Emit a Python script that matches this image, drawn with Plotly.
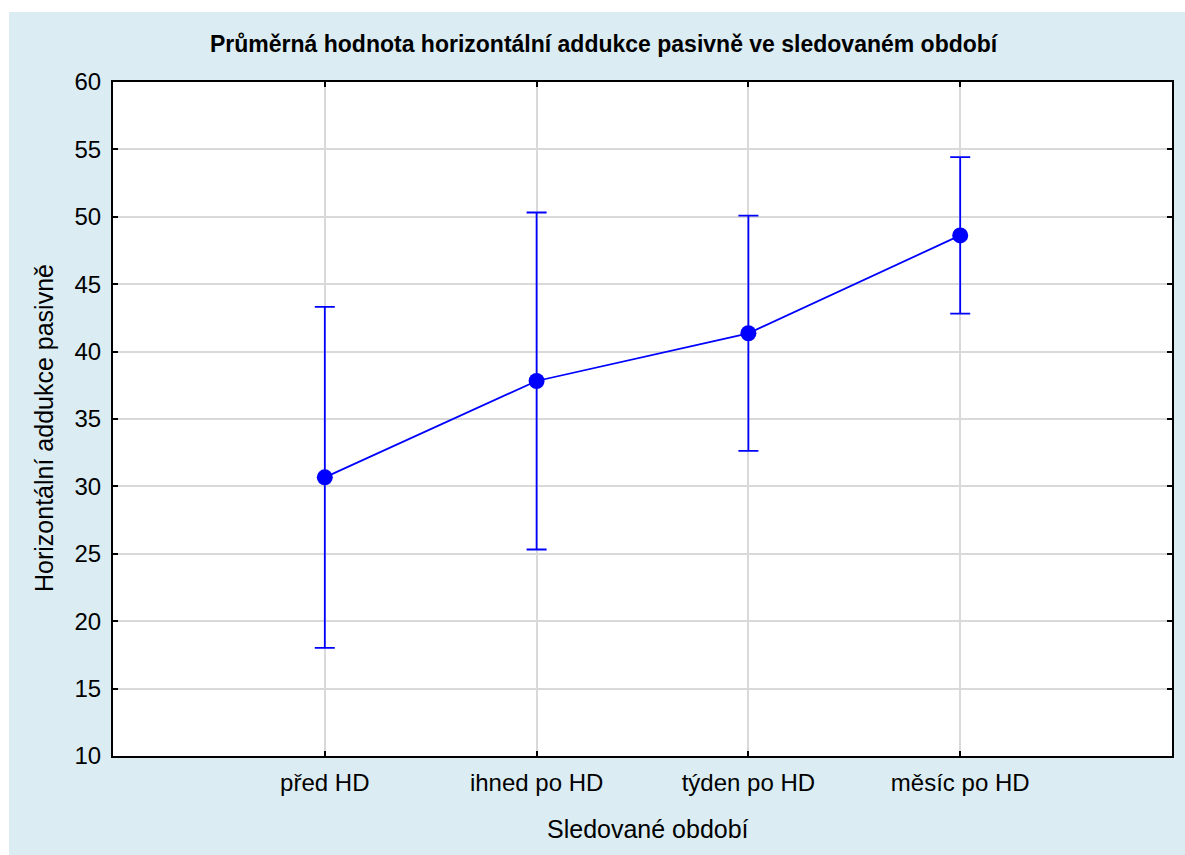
import plotly.graph_objects as go

categories = ["před HD", "ihned po HD", "týden po HD", "měsíc po HD"]
means = [30.67, 37.82, 41.36, 48.62]
errors = [12.65, 12.5, 8.72, 5.8]
y_ticks = [10, 15, 20, 25, 30, 35, 40, 45, 50, 55, 60]

title_text = "Průměrná hodnota horizontální addukce pasivně ve sledovaném období"
x_title = "Sledované období"
y_title = "Horizontální addukce pasivně"

W, H = 1185, 855
ML, MR, MT, MB = 113, 13, 82, 99
pw = W - ML - MR
ph = H - MT - MB

def px_x(p):
    return (p - ML) / pw

def px_y(p):
    return (H - MB - p) / ph

BLUE = "#dbedf3"
FONT = "Liberation Sans, Arial, sans-serif"

fig = go.Figure()
fig.add_trace(go.Scatter(
    x=list(range(len(categories))), y=means,
    mode="lines+markers",
    line=dict(color="#0000ff", width=1.8),
    marker=dict(color="#0000ff", size=16),
    error_y=dict(type="data", array=errors, visible=True, color="#0000ff", thickness=1.8, width=10),
    showlegend=False,
))

fig.add_shape(type="rect", xref="paper", yref="paper", layer="below",
              x0=px_x(9), x1=px_x(1186), y0=px_y(856), y1=px_y(12),
              fillcolor=BLUE, line=dict(width=0))
fig.add_shape(type="rect", xref="paper", yref="paper", layer="below",
              x0=0, x1=1, y0=0, y1=1, fillcolor="white", line=dict(width=0))

fig.add_annotation(text="<b>" + title_text + "</b>", xref="paper", yref="paper",
                   x=px_x(604), y=px_y(44), xanchor="center", yanchor="middle", showarrow=False,
                   font=dict(family=FONT, size=23, color="black"))
fig.add_annotation(text=x_title, xref="paper", yref="paper",
                   x=px_x(648), y=px_y(829), xanchor="center", yanchor="middle", showarrow=False,
                   font=dict(family=FONT, size=25, color="black"))
fig.add_annotation(text=y_title, xref="paper", yref="paper", textangle=-90,
                   x=px_x(44), y=px_y(428), xanchor="center", yanchor="middle", showarrow=False,
                   font=dict(family=FONT, size=25, color="black"))

fig.update_layout(
    width=W, height=H,
    margin=dict(l=ML, r=MR, t=MT, b=MB, pad=0),
    paper_bgcolor="white", plot_bgcolor="white",
    font=dict(family=FONT, size=24, color="black"),
)
fig.update_xaxes(
    range=[-1, 4], tickmode="array", tickvals=list(range(len(categories))), ticktext=categories,
    showgrid=True, gridcolor="#d9d9d9", gridwidth=1.5,
    showline=True, linecolor="black", linewidth=2, mirror="ticks",
    ticks="inside", ticklen=5, tickcolor="black", tickwidth=1.5,
    tickfont=dict(size=24), zeroline=False, ticklabelstandoff=4,
)
fig.update_yaxes(
    range=[10, 60], tickmode="array", tickvals=y_ticks,
    showgrid=True, gridcolor="#d9d9d9", gridwidth=1.5,
    showline=True, linecolor="black", linewidth=2, mirror="ticks",
    ticks="inside", ticklen=5, tickcolor="black", tickwidth=1.5,
    tickfont=dict(size=24), zeroline=False, ticklabelstandoff=5,
)

fig.write_html("out.html")
